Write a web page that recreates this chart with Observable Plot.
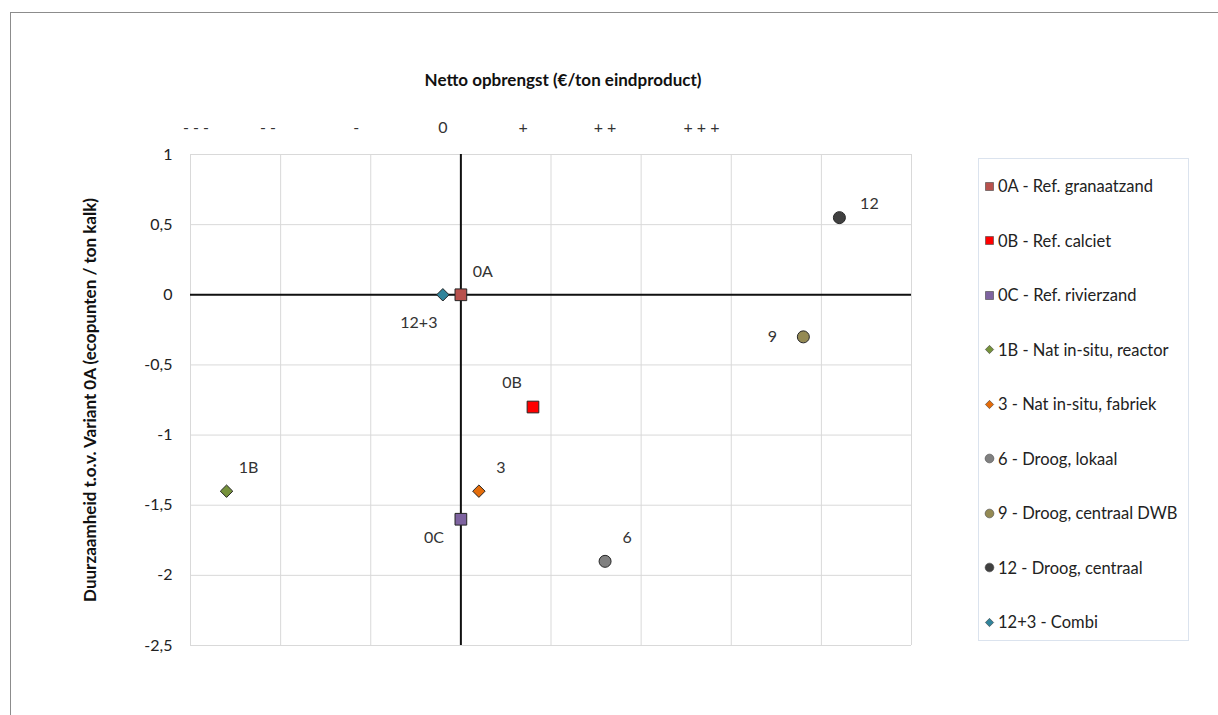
<!DOCTYPE html>
<html>
<head>
<meta charset="utf-8">
<script src="https://cdn.jsdelivr.net/npm/d3@7"></script>
<script src="https://cdn.jsdelivr.net/npm/@observablehq/plot@0.6"></script>
<style>
  html, body { margin: 0; padding: 0; background: #fff; }
  #wrap { position: relative; width: 1218px; height: 715px; overflow: hidden; font-family: Lato, "Open Sans", sans-serif; }
  #frame { position: absolute; left: 10px; top: 12px; width: 1300px; height: 800px; border-left: 1px solid #8c8c8c; border-top: 1px solid #8c8c8c; pointer-events: none; }
  #legend { position: absolute; left: 978px; top: 158px; width: 211px; height: 483px; border: 1px solid #dbe3ee; box-sizing: border-box; }
  .item { position: absolute; left: 5px; height: 22px; display: flex; align-items: center; font-size: 16.5px; color: #222; white-space: nowrap; }
  .item svg { margin-right: 3px; }
</style>
</head>
<body>
<div id="wrap">
  <div id="chart"></div>
  <div id="frame"></div>
  <div id="legend"></div>
</div>
<script>
// ---- data ----
const codes   = ["0A", "0B", "0C", "1B", "3", "6", "9", "12", "12+3"];
const names   = ["0A - Ref. granaatzand", "0B - Ref. calciet", "0C - Ref. rivierzand",
                 "1B - Nat in-situ, reactor", "3 - Nat in-situ, fabriek", "6 - Droog, lokaal",
                 "9 - Droog, centraal DWB", "12 - Droog, centraal", "12+3 - Combi"];
const xValues = [0, 0.8, 0, -2.6, 0.2, 1.6, 3.8, 4.2, -0.2];
const yValues = [0, -0.8, -1.6, -1.4, -1.4, -1.9, -0.3, 0.55, 0];
const shapes  = ["square", "square", "square", "diamond", "diamond", "circle", "circle", "circle", "diamond"];
const colors  = ["#b8514d", "#ff0000", "#7e63a0", "#76923c", "#e46c0a", "#808080", "#948a54", "#404040", "#31849b"];
const labelAt = ["ne", "nw", "sw", "ne", "ne", "ne", "w", "e", "ssw"];

const topTickLabels = ["- - -", "- -", "-", "0", "+", "+ +", "+ + +"];
const topTickX      = [-2.94, -2.14, -1.16, -0.2, 0.69, 1.6, 2.67];
const xGrid = [-3, -2, -1, 0, 1, 2, 3, 4, 5];
const yGrid = [-2.5, -2, -1.5, -1, -0.5, 0, 0.5, 1];

const xTitle = "Netto opbrengst (€/ton eindproduct)";
const yTitle = "Duurzaamheid t.o.v. Variant 0A (ecopunten / ton kalk)";

// ---- build ----
const FONT = "Lato, 'Open Sans', sans-serif";
const data = codes.map((c, i) => ({code: c, name: names[i], x: xValues[i], y: yValues[i],
  shape: shapes[i], color: colors[i], at: labelAt[i]}));

const offsets = {ne: [22, -23], e: [30, -14], nw: [-21, -24], sw: [-27, 19], ssw: [-24, 28], w: [-31, 0]};
const symbolMap = {square: "square", diamond: "diamond2", circle: "circle"};
const radius = {square: 6.6, diamond: 5.6, circle: 6};

const labelMarks = Object.entries(offsets).map(([k, [dx, dy]]) =>
  Plot.text(data.filter(d => d.at === k), {x: "x", y: "y", text: "code", dx, dy,
    fontSize: 16, fill: "#333", fontFamily: FONT}));

const dotMarks = ["circle", "diamond", "square"].map(s =>
  Plot.dot(data.filter(d => d.shape === s), {x: "x", y: "y", fill: "color",
    symbol: () => symbolMap[s], r: radius[s], stroke: "#262626", strokeWidth: 1}));

const topTicks = topTickLabels.map((t, i) => ({label: t, x: topTickX[i]}));

const chart = Plot.plot({
  width: 1218,
  height: 715,
  marginLeft: 190,
  marginRight: 307,
  marginTop: 154,
  marginBottom: 70,
  style: {fontFamily: FONT, fontSize: "16px", background: "transparent", color: "#222"},
  x: {domain: [-3, 5], axis: null},
  y: {domain: [-2.5, 1], ticks: yGrid, tickFormat: d => String(d).replace(".", ","),
      tickSize: 0, tickPadding: 18, label: null},
  marks: [
    Plot.gridX(xGrid, {stroke: "#d9d9d9", strokeOpacity: 1}),
    Plot.gridY(yGrid, {stroke: "#d9d9d9", strokeOpacity: 1}),
    Plot.ruleX([0], {stroke: "#111", strokeWidth: 2}),
    Plot.ruleY([0], {stroke: "#111", strokeWidth: 2}),
    ...dotMarks,
    ...labelMarks,
    Plot.text(topTicks, {x: "x", text: "label", frameAnchor: "top", lineAnchor: "middle", dy: -27, fontSize: 16, fill: "#333"}),
    Plot.text([xTitle], {frameAnchor: "top", lineAnchor: "middle", textAnchor: "middle", dx: 12, dy: -74, fontSize: 17, fontWeight: "bold", fill: "#111"}),
    Plot.text([yTitle], {frameAnchor: "left", lineAnchor: "middle", textAnchor: "middle", dx: -100, rotate: -90, fontSize: 17, fontWeight: "bold", fill: "#111"})
  ]
});
document.getElementById("chart").appendChild(chart);

// ---- legend ----
const legend = d3.select("#legend");
const legendSize = {square: 64, diamond: 44, circle: 60};
data.forEach((d, i) => {
  const item = legend.append("div").attr("class", "item").style("top", (16 + i * 54.5) + "px");
  const svg = item.append("svg").attr("width", 11).attr("height", 11);
  const sym = d.shape === "square" ? d3.symbolSquare : d.shape === "diamond" ? d3.symbolDiamond2 : d3.symbolCircle;
  svg.append("path").attr("transform", "translate(5.5,5.5)")
    .attr("d", d3.symbol(sym, legendSize[d.shape])())
    .attr("fill", d.color).attr("stroke", "#444").attr("stroke-width", 0.6);
  item.append("span").text(d.name);
});
</script>
</body>
</html>
